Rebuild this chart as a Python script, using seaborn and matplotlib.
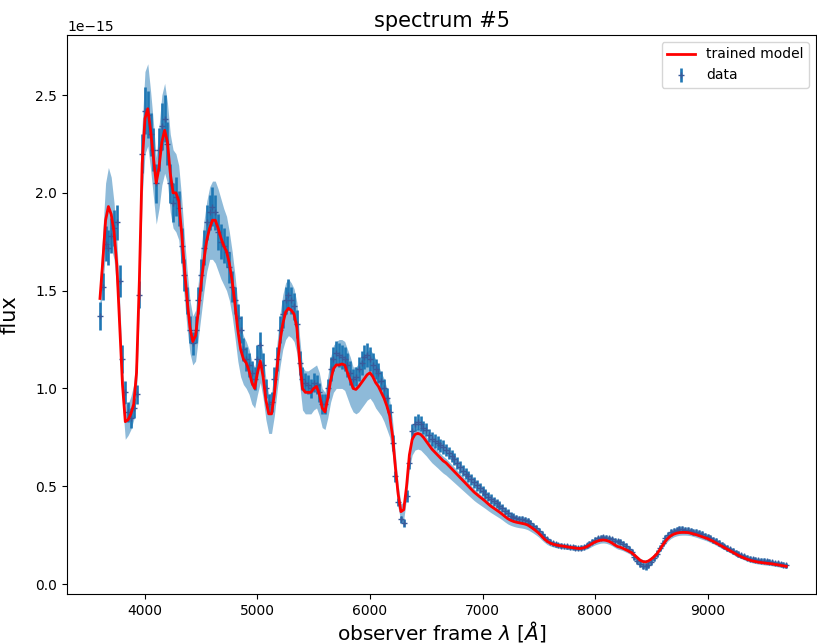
import numpy as np
import pandas as pd
import matplotlib
matplotlib.use("Agg")
import matplotlib.pyplot as plt
import seaborn as sns

# wavelength grid (Angstrom), 25 A sampling from 3600 to 9700
wavelength = np.arange(3600, 9701, 25)

# observed flux (units of 1e-15)
data_flux = [
    1.37, 1.52, 1.74, 1.72, 1.78, 1.82, 1.85, 1.55, 1.15, 0.98,
    0.88, 0.85, 0.90, 0.97, 1.48, 2.20, 2.42, 2.40, 2.30, 2.22,
    2.05, 2.22, 2.34, 2.38, 2.25, 2.05, 1.95, 1.98, 1.92, 1.73,
    1.58, 1.45, 1.30, 1.23, 1.30, 1.45, 1.58, 1.72, 1.85, 1.90,
    1.93, 1.90, 1.80, 1.75, 1.73, 1.70, 1.62, 1.52, 1.45, 1.36,
    1.30, 1.20, 1.15, 1.12, 1.08, 1.05, 1.15, 1.22, 1.12, 1.00,
    0.92, 0.93, 1.05, 1.15, 1.30, 1.38, 1.45, 1.48, 1.45, 1.42,
    1.33, 1.13, 1.05, 1.03, 1.02, 1.00, 1.03, 1.02, 0.98, 0.92,
    0.92, 1.00, 1.10, 1.15, 1.18, 1.17, 1.16, 1.15, 1.12, 1.08,
    1.05, 1.06, 1.10, 1.13, 1.16, 1.17, 1.15, 1.12, 1.10, 1.08,
    1.04, 1.00, 0.95, 0.88, 0.72, 0.55, 0.42, 0.33, 0.31, 0.45,
    0.62, 0.78, 0.82, 0.83, 0.82, 0.80, 0.79, 0.76, 0.74, 0.73,
    0.72, 0.71, 0.70, 0.685, 0.67, 0.655, 0.64, 0.62, 0.60, 0.58,
    0.565, 0.55, 0.535, 0.52, 0.505, 0.49, 0.475, 0.46, 0.447, 0.435,
    0.424, 0.412, 0.40, 0.387, 0.374, 0.362, 0.35, 0.342, 0.336, 0.332,
    0.33, 0.326, 0.32, 0.31, 0.298, 0.285, 0.272, 0.257, 0.242, 0.228,
    0.216, 0.208, 0.203, 0.199, 0.196, 0.194, 0.192, 0.19, 0.188, 0.186,
    0.185, 0.186, 0.19, 0.197, 0.206, 0.216, 0.226, 0.233, 0.237, 0.239,
    0.237, 0.233, 0.228, 0.222, 0.218, 0.214, 0.207, 0.194, 0.178, 0.162,
    0.14, 0.12, 0.104, 0.094, 0.09, 0.098, 0.113, 0.133, 0.156, 0.183,
    0.21, 0.234, 0.252, 0.264, 0.272, 0.277, 0.279, 0.279, 0.278, 0.276,
    0.272, 0.268, 0.264, 0.259, 0.254, 0.248, 0.242, 0.235, 0.227, 0.219,
    0.21, 0.201, 0.193, 0.185, 0.177, 0.169, 0.161, 0.154, 0.147, 0.141,
    0.135, 0.13, 0.127, 0.124, 0.121, 0.119, 0.118, 0.116, 0.114, 0.111,
    0.108, 0.105, 0.102, 0.099, 0.096,
]

# 1-sigma flux errors (units of 1e-15)
data_err = [
    0.07, 0.07, 0.09, 0.09, 0.09, 0.09, 0.09, 0.08, 0.07, 0.06,
    0.05, 0.05, 0.05, 0.05, 0.07, 0.10, 0.12, 0.12, 0.11, 0.11,
    0.10, 0.11, 0.12, 0.12, 0.11, 0.10, 0.10, 0.10, 0.09, 0.09,
    0.08, 0.07, 0.07, 0.06, 0.07, 0.07, 0.08, 0.09, 0.09, 0.09,
    0.10, 0.09, 0.09, 0.09, 0.09, 0.08, 0.08, 0.08, 0.07, 0.07,
    0.07, 0.06, 0.06, 0.06, 0.06, 0.06, 0.07, 0.07, 0.06, 0.05,
    0.05, 0.05, 0.06, 0.06, 0.07, 0.07, 0.07, 0.08, 0.07, 0.07,
    0.07, 0.06, 0.06, 0.05, 0.05, 0.05, 0.05, 0.05, 0.05, 0.05,
    0.05, 0.05, 0.06, 0.06, 0.06, 0.06, 0.06, 0.06, 0.06, 0.06,
    0.05, 0.05, 0.06, 0.06, 0.06, 0.06, 0.06, 0.06, 0.05, 0.05,
    0.05, 0.05, 0.05, 0.04, 0.04, 0.03, 0.02, 0.02, 0.02, 0.03,
    0.03, 0.04, 0.04, 0.04, 0.04, 0.035, 0.035, 0.035, 0.035, 0.035,
    0.035, 0.034, 0.034, 0.033, 0.033, 0.032, 0.032, 0.031, 0.031, 0.030,
    0.030, 0.029, 0.029, 0.028, 0.027, 0.027, 0.026, 0.025, 0.025, 0.024,
    0.023, 0.023, 0.022, 0.021, 0.021, 0.020, 0.020, 0.019, 0.019, 0.018,
    0.018, 0.017, 0.017, 0.016, 0.016, 0.015, 0.015, 0.014, 0.014, 0.013,
    0.013, 0.012, 0.012, 0.012, 0.012, 0.011, 0.011, 0.011, 0.011, 0.011,
    0.011, 0.011, 0.011, 0.012, 0.012, 0.013, 0.013, 0.013, 0.014, 0.014,
    0.014, 0.014, 0.014, 0.014, 0.014, 0.015, 0.015, 0.015, 0.015, 0.015,
    0.015, 0.016, 0.016, 0.016, 0.016, 0.016, 0.016, 0.016, 0.016, 0.016,
    0.016, 0.016, 0.016, 0.016, 0.016, 0.016, 0.016, 0.016, 0.016, 0.016,
    0.015, 0.015, 0.015, 0.015, 0.015, 0.015, 0.015, 0.015, 0.015, 0.015,
    0.014, 0.014, 0.014, 0.014, 0.014, 0.014, 0.014, 0.014, 0.014, 0.014,
    0.013, 0.013, 0.013, 0.013, 0.013, 0.013, 0.013, 0.013, 0.013, 0.013,
    0.012, 0.012, 0.012, 0.012, 0.012,
]

# trained model (units of 1e-15)
model_flux = [
    1.46, 1.65, 1.86, 1.93, 1.89, 1.80, 1.63, 1.33, 1.02, 0.83,
    0.84, 0.87, 0.92, 1.08, 1.55, 2.15, 2.38, 2.43, 2.32, 2.18,
    2.05, 2.13, 2.26, 2.32, 2.26, 2.10, 2.00, 2.00, 1.96, 1.80,
    1.62, 1.45, 1.31, 1.24, 1.27, 1.40, 1.54, 1.66, 1.76, 1.82,
    1.86, 1.86, 1.82, 1.77, 1.73, 1.70, 1.64, 1.55, 1.43, 1.30,
    1.20, 1.15, 1.13, 1.09, 1.03, 1.00, 1.08, 1.14, 1.06, 0.94,
    0.87, 0.87, 0.97, 1.11, 1.24, 1.33, 1.39, 1.41, 1.40, 1.38,
    1.31, 1.14, 1.00, 0.98, 0.98, 0.98, 1.00, 1.01, 0.97, 0.90,
    0.88, 0.95, 1.04, 1.10, 1.12, 1.12, 1.125, 1.12, 1.08, 1.04,
    1.00, 0.995, 1.01, 1.03, 1.05, 1.07, 1.08, 1.06, 1.03, 1.01,
    0.98, 0.95, 0.91, 0.86, 0.76, 0.60, 0.46, 0.37, 0.38, 0.50,
    0.66, 0.74, 0.765, 0.77, 0.765, 0.75, 0.73, 0.71, 0.69, 0.675,
    0.66, 0.645, 0.63, 0.62, 0.605, 0.59, 0.575, 0.56, 0.545, 0.53,
    0.515, 0.50, 0.485, 0.47, 0.458, 0.446, 0.435, 0.423, 0.41, 0.398,
    0.388, 0.378, 0.368, 0.357, 0.345, 0.334, 0.326, 0.32, 0.316, 0.313,
    0.31, 0.307, 0.302, 0.293, 0.283, 0.272, 0.26, 0.245, 0.23, 0.218,
    0.21, 0.204, 0.20, 0.197, 0.195, 0.193, 0.19, 0.188, 0.186, 0.184,
    0.182, 0.182, 0.185, 0.19, 0.198, 0.207, 0.215, 0.22, 0.224, 0.225,
    0.223, 0.218, 0.21, 0.20, 0.192, 0.188, 0.182, 0.175, 0.168, 0.16,
    0.148, 0.135, 0.122, 0.115, 0.113, 0.118, 0.128, 0.14, 0.155, 0.175,
    0.198, 0.218, 0.235, 0.247, 0.255, 0.26, 0.263, 0.264, 0.264, 0.263,
    0.26, 0.256, 0.252, 0.247, 0.242, 0.237, 0.232, 0.225, 0.218, 0.21,
    0.202, 0.194, 0.186, 0.178, 0.17, 0.162, 0.154, 0.146, 0.139, 0.133,
    0.127, 0.122, 0.118, 0.115, 0.112, 0.11, 0.108, 0.106, 0.105, 0.103,
    0.10, 0.098, 0.095, 0.093, 0.09,
]

# model uncertainty band, lower / upper edge (units of 1e-15)
band_lower = [
    1.36, 1.52, 1.70, 1.75, 1.72, 1.66, 1.50, 1.22, 0.93, 0.74,
    0.76, 0.79, 0.84, 0.98, 1.42, 1.98, 2.20, 2.24, 2.12, 1.98,
    1.84, 1.92, 2.04, 2.10, 2.05, 1.90, 1.82, 1.80, 1.76, 1.62,
    1.46, 1.30, 1.18, 1.12, 1.14, 1.26, 1.38, 1.50, 1.60, 1.66,
    1.66, 1.64, 1.60, 1.56, 1.53, 1.50, 1.45, 1.37, 1.26, 1.14,
    1.06, 1.02, 1.00, 0.97, 0.92, 0.90, 0.97, 1.03, 0.95, 0.84,
    0.77, 0.77, 0.86, 0.99, 1.11, 1.20, 1.25, 1.27, 1.26, 1.24,
    1.18, 1.02, 0.89, 0.87, 0.87, 0.87, 0.89, 0.90, 0.86, 0.80,
    0.79, 0.85, 0.93, 0.98, 1.00, 1.00, 1.00, 0.99, 0.95, 0.91,
    0.88, 0.87, 0.88, 0.90, 0.92, 0.94, 0.95, 0.93, 0.90, 0.88,
    0.86, 0.83, 0.79, 0.75, 0.66, 0.52, 0.39, 0.32, 0.33, 0.44,
    0.59, 0.66, 0.685, 0.69, 0.685, 0.67, 0.655, 0.637, 0.62, 0.607,
    0.594, 0.58, 0.567, 0.557, 0.544, 0.531, 0.518, 0.505, 0.492, 0.479,
    0.466, 0.453, 0.44, 0.427, 0.416, 0.406, 0.396, 0.386, 0.375, 0.365,
    0.356, 0.347, 0.338, 0.328, 0.317, 0.307, 0.30, 0.295, 0.291, 0.288,
    0.286, 0.283, 0.278, 0.27, 0.261, 0.251, 0.24, 0.226, 0.213, 0.202,
    0.195, 0.19, 0.186, 0.183, 0.181, 0.179, 0.177, 0.175, 0.173, 0.171,
    0.17, 0.17, 0.173, 0.178, 0.185, 0.193, 0.2, 0.205, 0.209, 0.21,
    0.208, 0.203, 0.196, 0.187, 0.179, 0.175, 0.17, 0.163, 0.156, 0.148,
    0.137, 0.124, 0.111, 0.104, 0.102, 0.107, 0.117, 0.129, 0.144, 0.163,
    0.185, 0.204, 0.221, 0.233, 0.241, 0.246, 0.249, 0.25, 0.25, 0.249,
    0.247, 0.243, 0.239, 0.234, 0.229, 0.224, 0.219, 0.212, 0.206, 0.198,
    0.19, 0.182, 0.175, 0.167, 0.159, 0.151, 0.143, 0.136, 0.129, 0.123,
    0.117, 0.112, 0.108, 0.105, 0.102, 0.1, 0.098, 0.096, 0.095, 0.093,
    0.09, 0.088, 0.085, 0.083, 0.08,
]
band_upper = [
    1.56, 1.80, 2.05, 2.13, 2.08, 1.95, 1.76, 1.45, 1.12, 0.92,
    0.92, 0.96, 1.02, 1.20, 1.70, 2.35, 2.62, 2.66, 2.52, 2.36,
    2.18, 2.34, 2.50, 2.56, 2.46, 2.30, 2.22, 2.20, 2.14, 1.98,
    1.78, 1.60, 1.45, 1.37, 1.40, 1.55, 1.72, 1.86, 1.96, 2.03,
    2.06, 2.06, 2.02, 1.97, 1.92, 1.88, 1.80, 1.70, 1.58, 1.44,
    1.32, 1.27, 1.24, 1.20, 1.14, 1.11, 1.19, 1.25, 1.17, 1.05,
    0.97, 0.98, 1.09, 1.24, 1.38, 1.48, 1.54, 1.56, 1.54, 1.51,
    1.44, 1.26, 1.11, 1.09, 1.09, 1.10, 1.11, 1.12, 1.08, 1.00,
    0.98, 1.06, 1.16, 1.22, 1.24, 1.25, 1.25, 1.24, 1.20, 1.16,
    1.11, 1.11, 1.13, 1.15, 1.17, 1.19, 1.20, 1.18, 1.15, 1.12,
    1.08, 1.05, 1.00, 0.94, 0.84, 0.67, 0.51, 0.41, 0.42, 0.55,
    0.69, 0.77, 0.79, 0.795, 0.79, 0.775, 0.755, 0.735, 0.715, 0.70,
    0.683, 0.668, 0.653, 0.642, 0.627, 0.612, 0.597, 0.582, 0.566, 0.551,
    0.535, 0.519, 0.503, 0.487, 0.474, 0.461, 0.449, 0.436, 0.423, 0.41,
    0.40, 0.389, 0.379, 0.367, 0.355, 0.344, 0.336, 0.33, 0.326, 0.323,
    0.32, 0.317, 0.312, 0.303, 0.293, 0.282, 0.27, 0.255, 0.24, 0.228,
    0.219, 0.213, 0.209, 0.206, 0.204, 0.202, 0.199, 0.197, 0.195, 0.193,
    0.191, 0.191, 0.194, 0.2, 0.208, 0.217, 0.226, 0.231, 0.235, 0.236,
    0.234, 0.229, 0.221, 0.21, 0.202, 0.198, 0.192, 0.185, 0.178, 0.17,
    0.158, 0.145, 0.132, 0.125, 0.123, 0.128, 0.138, 0.15, 0.166, 0.186,
    0.209, 0.229, 0.246, 0.258, 0.266, 0.271, 0.274, 0.275, 0.275, 0.274,
    0.271, 0.267, 0.263, 0.258, 0.253, 0.248, 0.243, 0.236, 0.229, 0.221,
    0.213, 0.205, 0.197, 0.189, 0.181, 0.173, 0.165, 0.157, 0.15, 0.143,
    0.137, 0.132, 0.128, 0.125, 0.122, 0.12, 0.118, 0.116, 0.115, 0.113,
    0.11, 0.108, 0.105, 0.103, 0.10,
]

UNIT = 1e-15  # flux unit of the arrays above

df = pd.DataFrame({
    "wavelength": wavelength,
    "flux": np.array(data_flux) * UNIT,
    "err": np.array(data_err) * UNIT,
    "model": np.array(model_flux) * UNIT,
    "lo": np.array(band_lower) * UNIT,
    "hi": np.array(band_upper) * UNIT,
})

fig = plt.figure(figsize=(8.17, 6.44), dpi=100)
ax = fig.add_axes([67 / 817, 50 / 644, 749 / 817, 559 / 644])

ax.fill_between(df["wavelength"], df["lo"], df["hi"], color="tab:blue",
                alpha=0.5, linewidth=0)
ax.errorbar(df["wavelength"], df["flux"], yerr=df["err"], fmt="+",
            color="tab:blue", mec="#3a5a9a", markersize=4, elinewidth=1.9,
            label="data", zorder=2)
sns.lineplot(data=df, x="wavelength", y="model", color="red", linewidth=2,
             label="trained model", ax=ax, zorder=3)

ax.set_xlim(3307, 9964)
ax.set_ylim(-0.051e-15, 2.807e-15)
ax.set_title("spectrum #5", fontsize=15)
ax.set_xlabel(r"observer frame $\lambda$ [$\AA$]", fontsize=14.5, labelpad=1)
ax.set_ylabel("flux", fontsize=15, labelpad=11)
ax.tick_params(labelsize=10)
ax.legend(loc="upper right", fontsize=10)

fig.savefig("out.png", dpi=100)
